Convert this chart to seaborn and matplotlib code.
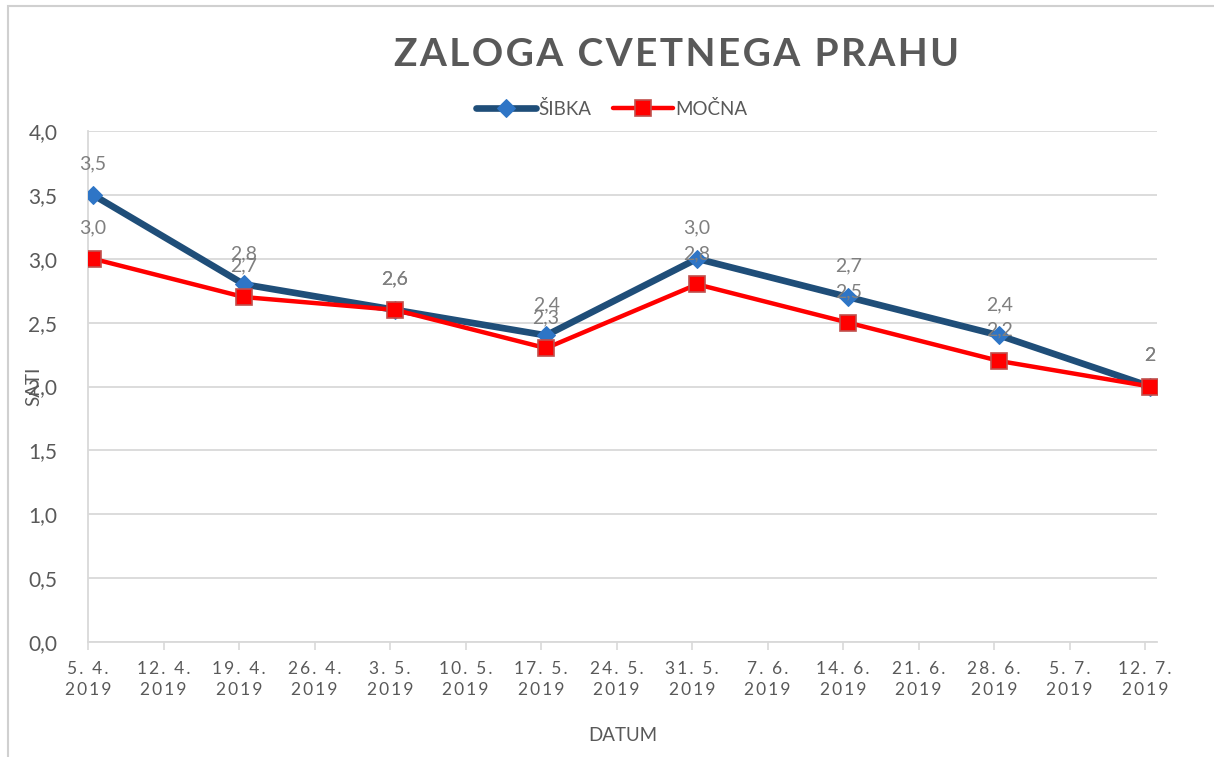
import matplotlib
matplotlib.use("Agg")
import matplotlib.pyplot as plt
import seaborn as sns
import pandas as pd
import numpy as np
from matplotlib.patches import Rectangle

# ---- data ----
date_labels = ["5. 4.", "12. 4.", "19. 4.", "26. 4.", "3. 5.", "10. 5.", "17. 5.",
               "24. 5.", "31. 5.", "7. 6.", "14. 6.", "21. 6.", "28. 6.", "5. 7.", "12. 7."]
year_label = "2019"
measure_idx = [0, 2, 4, 6, 8, 10, 12, 14]          # weeks with measurements
sibka = [3.5, 2.8, 2.6, 2.4, 3.0, 2.7, 2.4, 2.0]
mocna = [3.0, 2.7, 2.6, 2.3, 2.8, 2.5, 2.2, 2.0]
sibka_lbl = ["3,5", "2,8", "2,6", "2,4", "3,0", "2,7", "2,4", "2"]
mocna_lbl = ["3,0", "2,7", "2,6", "2,3", "2,8", "2,5", "2,2", "2"]
y_ticks = [0.0, 0.5, 1.0, 1.5, 2.0, 2.5, 3.0, 3.5, 4.0]

sns.set_theme(style="white")
plt.rcParams["font.family"] = ["Lato", "DejaVu Sans"]

GRAY = "#595959"
GRID = "#d9d9d9"

def spaced(s, sep="\u2009"):
    return sep.join(list(s))

df = pd.DataFrame({
    "x": measure_idx * 2,
    "y": sibka + mocna,
    "serija": ["ŠIBKA"] * len(sibka) + ["MOČNA"] * len(mocna),
})

fig = plt.figure(figsize=(12.14, 7.57), dpi=100)
ax = fig.add_axes([88 / 1214, 1 - 642 / 757, (1157 - 88) / 1214, (642 - 131) / 757])

sns.lineplot(data=df[df.serija == "ŠIBKA"], x="x", y="y", ax=ax, color="#1F4E79",
             linewidth=4.8, marker="D", markersize=9, markerfacecolor="#2E75C6",
             markeredgecolor="#2E75C6", label="ŠIBKA", zorder=3)
sns.lineplot(data=df[df.serija == "MOČNA"], x="x", y="y", ax=ax, color="#FF0000",
             linewidth=3.2, marker="s", markersize=11, markerfacecolor="#FF0000",
             markeredgecolor="#C0504D", markeredgewidth=1.2, label="MOČNA", zorder=4)

# data labels
for xi, v, t in zip(measure_idx, sibka, sibka_lbl):
    ax.annotate(t, (xi, v), xytext=(0, 16), textcoords="offset points",
                ha="center", va="bottom", fontsize=14, color="#7f7f7f")
for xi, v, t in zip(measure_idx, mocna, mocna_lbl):
    ax.annotate(t, (xi, v), xytext=(0, 16), textcoords="offset points",
                ha="center", va="bottom", fontsize=14, color="#7f7f7f")

x0 = -0.066
ax.set_xlim(x0, 14.09)
ax.set_ylim(0, 4.0)
ax.set_yticks(y_ticks)
ax.set_yticklabels([f"{v:.1f}".replace(".", ",") for v in y_ticks], fontsize=15, color=GRAY)
ax.set_xticks([i + x0 for i in range(len(date_labels))])
ax.set_xticklabels([spaced(d) + "\n" + spaced(year_label) for d in date_labels],
                   fontsize=12.5, color=GRAY, linespacing=1.35)
ax.tick_params(axis="x", which="both", bottom=True, length=6, width=1.2, color=GRID, pad=8)
ax.tick_params(axis="y", left=False, pad=16)

ax.grid(axis="y", color=GRID, linewidth=1.3)
ax.grid(axis="x", visible=False)
for s in ["top", "right"]:
    ax.spines[s].set_visible(False)
ax.spines["left"].set_color(GRID)
ax.spines["left"].set_linewidth(1.3)
ax.spines["bottom"].set_color(GRID)
ax.spines["bottom"].set_linewidth(1.3)
ax.set_axisbelow(True)

ax.set_xlabel("DATUM", fontsize=13.5, color=GRAY, labelpad=21)
ax.set_ylabel("SATI", fontsize=13.5, color=GRAY)
ax.yaxis.set_label_coords(-0.043, 0.5)

leg = ax.legend(loc="lower center", bbox_to_anchor=(0.49, 1.0), ncol=2, frameon=False,
                fontsize=13.5, handlelength=3.2, columnspacing=1.2, handletextpad=0.1,
                borderaxespad=0.3)
for t in leg.get_texts():
    t.set_color(GRAY)

fig.text(677 / 1214, 1 - 55 / 757, spaced("ZALOGA CVETNEGA PRAHU", "\u200a"),
         ha="center", va="center", fontsize=28, fontweight="bold", color=GRAY)

# chart area border (clipped by figure edge)
fig.patches.append(Rectangle((7.5 / 1214, -0.2), 1.2, 1.2 - 5.5 / 757, transform=fig.transFigure,
                             fill=False, edgecolor="#d0d0d0", linewidth=1.5))

fig.savefig("out.png", dpi=100, facecolor="white")
